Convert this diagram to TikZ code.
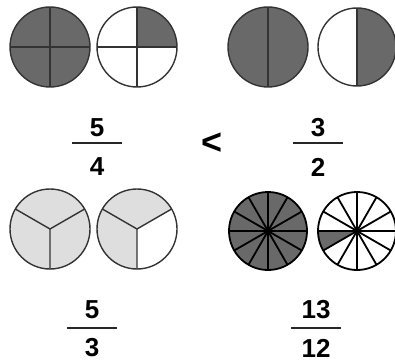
\documentclass[tikz,border=0pt]{standalone}
\usepackage{fontspec}
\setmainfont{Liberation Sans}
\begin{document}
\begin{tikzpicture}[x=1pt,y=-1pt,
  rim/.style={draw=black!80,line width=1.4pt},
  spoke/.style={draw=black!80,line width=1.4pt},
  fine/.style={draw=black,line width=1.8pt},
  num/.style={font=\fontsize{26}{26}\selectfont\bfseries,inner sep=0pt},
  bar/.style={line width=2.6pt,draw=black!85}]
\useasboundingbox (0,0) rectangle (395,363);
\definecolor{dk}{RGB}{105,105,105}
\definecolor{lt}{RGB}{222,222,222}
% top-left: quarters
\fill[dk] (50,47) circle (40);
\draw[spoke] (10,47) -- (90,47) (50,7) -- (50,87);
\draw[rim] (50,47) circle (40);
\fill[white] (137,47) circle (40);
\fill[dk] (137,47) -- (177,47) arc[start angle=0,end angle=-90,radius=40] -- cycle;
\draw[spoke] (97,47) -- (177,47) (137,7) -- (137,87);
\draw[rim] (137,47) circle (40);
% top-right: halves
\fill[dk] (268,47) circle (40);
\draw[spoke] (268,7) -- (268,87);
\draw[rim] (268,47) circle (40);
\fill[white] (357,47) circle (39);
\fill[dk] (357,86) arc[start angle=90,end angle=-90,radius=39] -- cycle;
\draw[spoke] (357,8) -- (357,86);
\draw[rim] (357,47) circle (39);
% bottom-left: thirds
\fill[lt] (50,229) circle (40);
\draw[spoke] (50,229) -- ++(150:-40) (50,229) -- ++(30:-40) (50,229) -- ++(0,40);
\draw[rim] (50,229) circle (40);
\fill[lt] (137,229) circle (40);
\fill[white] (137,229) -- ++(-30:40) arc[start angle=-30,end angle=90,radius=40] -- cycle;
\draw[spoke] (137,229) -- ++(150:-40) (137,229) -- ++(30:-40) (137,229) -- ++(0,40);
\draw[rim] (137,229) circle (40);
% bottom-right: twelfths
\fill[dk] (268,231) circle (39);
\foreach \a in {0,30,...,330} \draw[fine] (268,231) -- ++(\a:39);
\draw[fine] (268,231) circle (39);
\fill[white] (357,231) circle (39);
\fill[dk] (357,231) -- ++(-39,0) arc[start angle=180,end angle=150,radius=39] -- cycle;
\foreach \a in {0,30,...,330} \draw[fine] (357,231) -- ++(\a:39);
\draw[fine] (357,231) circle (39);
% fractions
\node[num] (n1) at (97,128) {5};
\node[num] (d1) at (97,167) {4};
\draw[bar] (72,143) -- (122,143);
\node[num,font=\fontsize{36}{36}\selectfont\bfseries] (lt) at (212,144) {<};
\node[num] (n2) at (318,128) {3};
\node[num] (d2) at (318,167) {2};
\draw[bar] (293,143) -- (343,143);
\node[num] (n3) at (92,310) {5};
\node[num] (d3) at (92,348) {3};
\draw[bar] (67,328) -- (117,328);
\node[num] (n4) at (316,310) {13};
\node[num] (d4) at (316,348) {12};
\draw[bar] (291,328) -- (341,328);
\end{tikzpicture}
\end{document}
